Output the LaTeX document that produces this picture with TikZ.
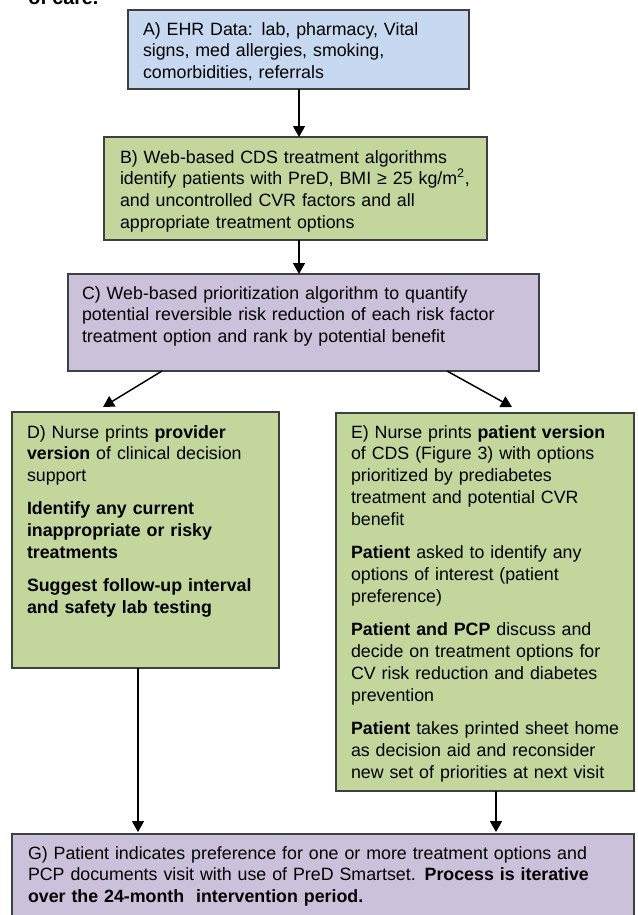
\documentclass[tikz,border=0pt]{standalone}
\usepackage{fontspec}
\setmainfont{Liberation Sans}
\usetikzlibrary{arrows.meta}
\definecolor{boxblue}{HTML}{C6D9F1}
\definecolor{boxgreen}{HTML}{C3D69B}
\definecolor{boxpurple}{HTML}{CCC1DA}
\definecolor{boxline}{HTML}{3F3F3F}
\begin{document}
\begin{tikzpicture}[x=0.75pt,y=-0.75pt,
  box/.style={draw=boxline,line width=1.1pt,inner sep=0pt,outer sep=0pt,rectangle},
  txt/.style={anchor=base west,inner sep=0pt,outer sep=0pt,align=left,text width=#1,
    font=\fontsize{13.35}{16.4}\selectfont},
  arr/.style={draw=black,line width=1.1pt,-{Triangle[width=9pt,length=8.25pt]}}]
\useasboundingbox (0,0) rectangle (637,915);
\fill[white] (0,0) rectangle (637,915);
% cut-off caption fragment at the top
\node[anchor=base west,inner sep=0pt,font=\fontsize{14.8}{17}\selectfont\bfseries] (cap) at (28,4) {of care.};
% boxes
\node[box,fill=boxblue,minimum width=255.75pt,minimum height=59.25pt] (A) at (298.5,49.5) {};
\node[box,fill=boxgreen,minimum width=287.25pt,minimum height=77.25pt] (B) at (295.5,188.5) {};
\node[box,fill=boxpurple,minimum width=353.25pt,minimum height=72.75pt] (C) at (303.5,322.5) {};
\node[box,fill=boxgreen,minimum width=200.25pt,minimum height=192pt] (D) at (145.5,540) {};
\node[box,fill=boxgreen,minimum width=223.5pt,minimum height=283.5pt] (E) at (485,602) {};
\node[box,fill=boxpurple,minimum width=466.5pt,minimum height=72pt] (G) at (323,882) {};
% texts
\node[txt=250pt] (At) at (143,35) {A) EHR Data: lab, pharmacy, Vital\\
signs, med allergies, smoking,\\
comorbidities, referrals};
\node[txt=280pt] (Bt) at (120,163) {B) Web-based CDS treatment algorithms\\
identify patients with PreD, BMI ≥ 25 kg/m\textsuperscript{2},\\
and uncontrolled CVR factors and all\\
appropriate treatment options};
\node[txt=350pt] (Ct) at (82,299) {C) Web-based prioritization algorithm to quantify\\
potential reversible risk reduction of each risk factor\\
treatment option and rank by potential benefit};
\node[txt=195pt] (Dt) at (27,438) {D) Nurse prints \textbf{provider}\\
\textbf{version} of clinical decision\\
support\\[8.5pt]
\textbf{Identify any current}\\
\textbf{inappropriate or risky}\\
\textbf{treatments}\\[8.5pt]
\textbf{Suggest follow-up interval}\\
\textbf{and safety lab testing}};
\node[txt=215pt] (Et) at (351,438) {E) Nurse prints \textbf{patient version}\\
of CDS (Figure 3) with options\\
prioritized by prediabetes\\
treatment and potential CVR\\
benefit\\[8.5pt]
\textbf{Patient} asked to identify any\\
options of interest (patient\\
preference)\\[8.5pt]
\textbf{Patient and PCP} discuss and\\
decide on treatment options for\\
CV risk reduction and diabetes\\
prevention\\[8.5pt]
\textbf{Patient} takes printed sheet home\\
as decision aid and reconsider\\
new set of priorities at next visit};
\node[txt=460pt] (Gt) at (28,859) {G) Patient indicates preference for one or more treatment options and\\
PCP documents visit with use of PreD Smartset. \textbf{Process is iterative}\\
\textbf{over the 24-month\ \ intervention period.}};
% connector helper coordinates
\coordinate (ax) at (299,0);
\coordinate (cdS) at (162,0);
\coordinate (cdT) at (103,407);
\coordinate (ceS) at (447,0);
\coordinate (ceT) at (512,407);
\coordinate (dgx) at (138,0);
\coordinate (egx) at (496,0);
% connectors
\draw[arr] (A.south -| ax) -- (B.north -| ax);
\draw[arr] (B.south -| ax) -- (C.north -| ax);
\draw[arr] (C.south -| cdS) -- (cdT);
\draw[arr] (C.south -| ceS) -- (ceT);
\draw[arr,shorten >=1.5pt] (D.south -| dgx) -- (G.north -| dgx);
\draw[arr,shorten >=1.5pt] (E.south -| egx) -- (G.north -| egx);
\end{tikzpicture}
\end{document}
